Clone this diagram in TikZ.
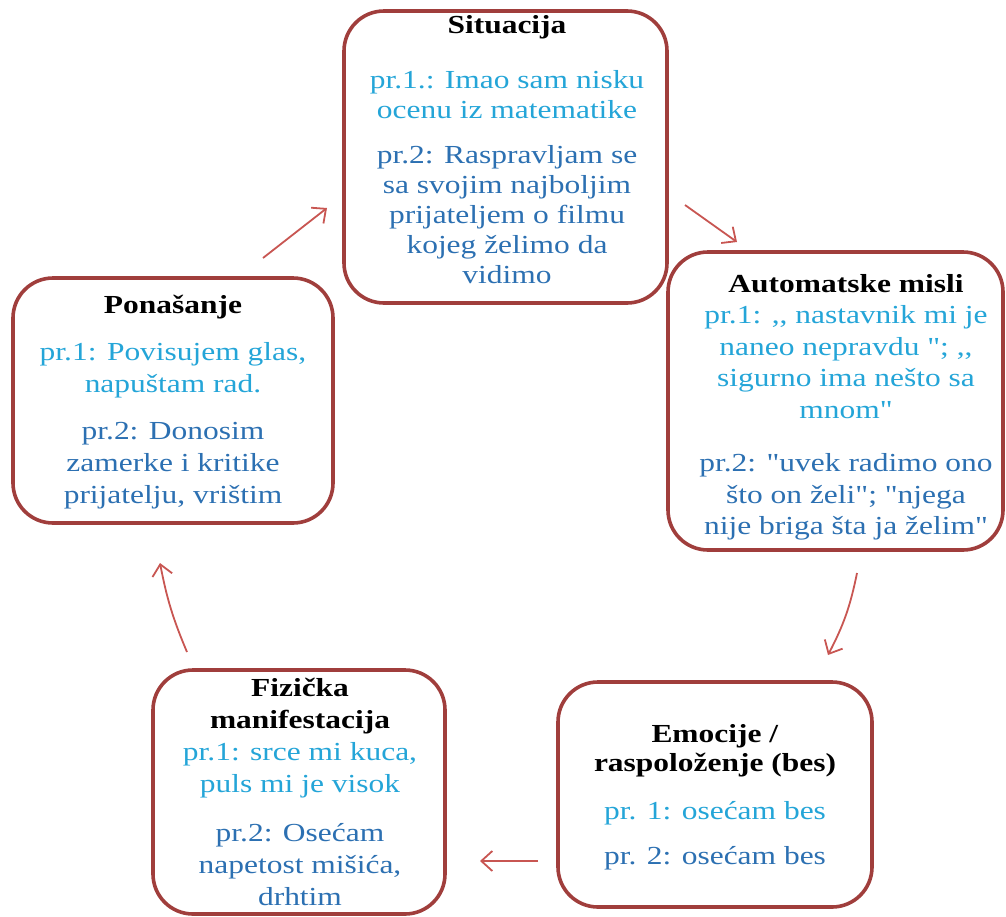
\documentclass[tikz,border=0pt]{standalone}
\usepackage{fontspec}
\setmainfont{Liberation Serif}[FakeStretch=1.21,Ligatures=TeXOff]
\usetikzlibrary{arrows.meta}
\definecolor{boxred}{RGB}{160,62,60}
\definecolor{arrred}{RGB}{200,86,82}
\definecolor{lblue}{RGB}{36,165,216}
\definecolor{dblue}{RGB}{44,112,178}
\tikzset{
  cbox/.style={draw=boxred, line width=3.6pt, rounded corners=40pt, fill=white, inner sep=0pt},
  ctext/.style={anchor=north, align=center, inner sep=0pt},
  carrow/.style={draw=arrred, line width=1.8pt, -{Straight Barb[length=11pt,width=20pt,line width=1.8pt]}},
}
\newcommand{\hd}[1]{\textbf{#1}}
\newcommand{\pa}[1]{\textcolor{lblue}{#1}}
\newcommand{\pb}[1]{\textcolor{dblue}{#1}}
\begin{document}
\begin{tikzpicture}[x=1pt,y=-1pt]
\useasboundingbox (0,0) rectangle (1006,916);
% boxes
\node[cbox, minimum width=323pt, minimum height=292pt] (sit) at (505.5,157) {};
\node[cbox, minimum width=335pt, minimum height=298pt] (aut) at (835.5,401) {};
\node[cbox, minimum width=314pt, minimum height=225pt] (emo) at (715,794.5) {};
\node[cbox, minimum width=292pt, minimum height=244pt] (fiz) at (299,792) {};
\node[cbox, minimum width=320pt, minimum height=245pt] (pon) at (173,400.5) {};
% texts
\node[ctext, font=\fontsize{26}{30}\selectfont] (sitT) at (507,15)
 {\hd{Situacija}\\[25pt]
  \pa{pr.1.: Imao sam nisku}\\ \pa{ocenu iz matematike}\\[15pt]
  \pb{pr.2: Raspravljam se}\\ \pb{sa svojim najboljim}\\ \pb{prijateljem o filmu}\\ \pb{kojeg želimo da}\\ \pb{vidimo}};
\node[ctext, font=\fontsize{26}{31.5}\selectfont] (autT) at (846,274)
 {\hd{Automatske misli}\\
  \pa{pr.1: ,, nastavnik mi je}\\ \pa{naneo nepravdu "; ,,}\\ \pa{sigurno ima nešto sa}\\ \pa{mnom"}\\[22pt]
  \pb{pr.2: "uvek radimo ono}\\ \pb{što on želi"; "njega}\\ \pb{nije briga šta ja želim"}};
\node[ctext, font=\fontsize{26}{32}\selectfont] (ponT) at (173,295)
 {\hd{Ponašanje}\\[15pt]
  \pa{pr.1: Povisujem glas,}\\ \pa{napuštam rad.}\\[15pt]
  \pb{pr.2: Donosim}\\ \pb{zamerke i kritike}\\ \pb{prijatelju, vrištim}};
\node[ctext, font=\fontsize{26}{32}\selectfont] (fizT) at (300,678)
 {\hd{Fizička}\\ \hd{manifestacija}\\
  \pa{pr.1: srce mi kuca,}\\ \pa{puls mi je visok}\\[17pt]
  \pb{pr.2: Osećam}\\ \pb{napetost mišića,}\\ \pb{drhtim}};
\node[ctext, font=\fontsize{26}{29}\selectfont] (emoT) at (715,724)
 {\hd{Emocije /}\\ \hd{raspoloženje (bes)}\\[19pt]
  \pa{pr. 1: osećam bes}\\[16pt]
  \pb{pr. 2: osećam bes}};
% arrow end points
\coordinate (a1s) at (263,258); \coordinate (a1e) at (327,208);
\coordinate (a2s) at (685,205); \coordinate (a2e) at (737,242);
\coordinate (a3s) at (857,573); \coordinate (a3e) at (828,655);
\coordinate (a4s) at (538,861); \coordinate (a4e) at (480,861);
\coordinate (a5s) at (187,652); \coordinate (a5e) at (160,563);
\draw[carrow] (a1s) -- (a1e);
\draw[carrow] (a2s) -- (a2e);
\draw[carrow] (a3s) to[bend left=8] (a3e);
\draw[carrow] (a4s) -- (a4e);
\draw[carrow] (a5s) to[bend left=6] (a5e);
\end{tikzpicture}
\end{document}
